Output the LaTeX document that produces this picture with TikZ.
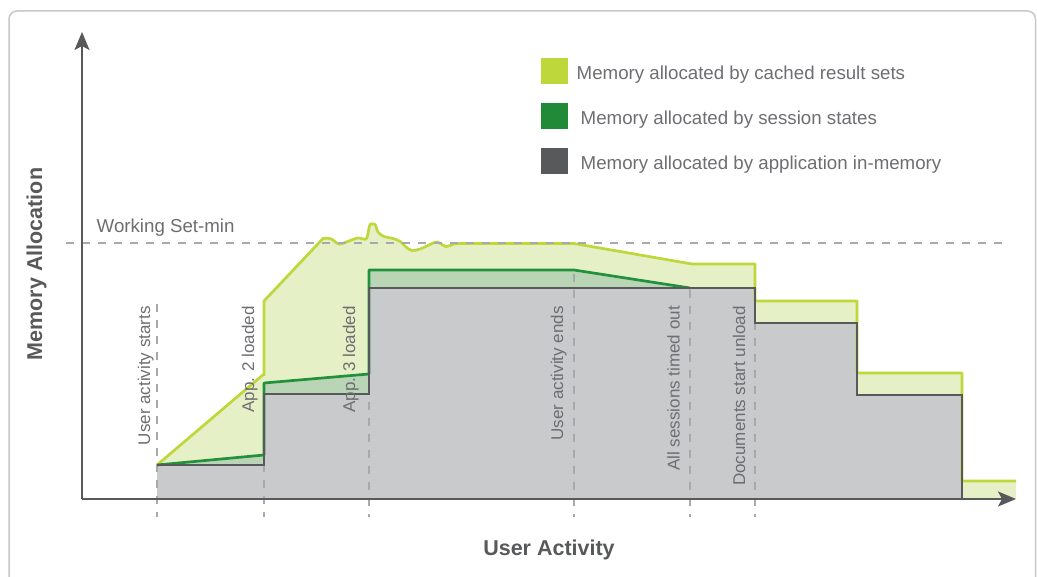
\documentclass[tikz,border=0pt]{standalone}
\usepackage{fontspec}
\setmainfont{Liberation Sans}
\usetikzlibrary{arrows.meta}
\definecolor{axisgray}{HTML}{58595B}
\definecolor{framegray}{HTML}{C7C8CA}
\definecolor{dashgray}{HTML}{A7A9AC}
\definecolor{txtgray}{HTML}{6D6E71}
\definecolor{limeline}{HTML}{BED73B}
\definecolor{limefill}{HTML}{E6F0C6}
\definecolor{greenline}{HTML}{22913C}
\definecolor{greenfill}{HTML}{B9D5B6}
\definecolor{grayfill}{HTML}{C9CACC}
\tikzset{
  axisline/.style={draw=axisgray, line width=2pt, -{Stealth[length=18pt,width=15pt,inset=4pt]}},
  framebox/.style={draw=framegray, line width=1.5pt, rounded corners=8pt},
  guide/.style={draw=dashgray, line width=1.5pt, dash pattern=on 8pt off 8pt},
  limeedge/.style={draw=limeline, line width=2.7pt, line join=round},
  greenedge/.style={draw=greenline, line width=2.7pt, line join=round},
  grayedge/.style={draw=axisgray, line width=2.9pt, line join=miter},
  eventlabel/.style={rotate=90, anchor=base east, inner sep=0pt, text=txtgray, font=\fontsize{17}{17}\selectfont},
  legendtext/.style={anchor=base west, inner sep=0pt, text=txtgray, font=\fontsize{18.7}{18.7}\selectfont},
  legendsq/.style={minimum width=27pt, minimum height=26pt, inner sep=0pt, anchor=north west},
  axistitle/.style={inner sep=0pt, anchor=base, text=axisgray, font=\fontsize{21.5}{21.5}\selectfont\bfseries}
}
\begin{document}
\begin{tikzpicture}[x=1pt,y=-1pt]
\path[use as bounding box] (0,0) rectangle (1037,577);
\begin{scope}
\clip (0,0) rectangle (1037,577);
\draw[framebox] (9,590) -- (9,11) -- (1035.5,11) -- (1035.5,590);
\end{scope}

% coordinates
\coordinate (O) at (82,499);
\coordinate (ytip) at (82,32);
\coordinate (xtip) at (1016,499);

% lime (cached result sets) fill
\fill[limefill] (157,465) -- (264,374) -- (264,301) -- (323,238.5)
  -- plot[smooth, tension=0.55] coordinates {(323,238.5) (331,238.8) (339,244) (349,241) (358,238) (366,239) (368.5,231) (370,224.5) (375,224.5) (378,232) (384,236.5) (393,238.5) (401,242) (406,247) (412,250.5) (420,249) (429,245) (437,242) (446,246.5) (454,244) (462,243.5)}
  -- (574,243.5) -- (692,264) -- (755,264) -- (755,301) -- (857,301) -- (857,373) -- (962,373) -- (962,481) -- (1016,481) -- (1016,499) -- (157,499) -- cycle;
% green (session states) fill
\fill[greenfill] (157,465) -- (264,455) -- (264,383) -- (369,374) -- (369,270) -- (574,270) -- (690,288) -- (690,499) -- (157,499) -- cycle;
% gray (application) fill
\fill[grayfill] (157,465) -- (264,465) -- (264,394) -- (369,394) -- (369,288) -- (755,288) -- (755,323) -- (857,323) -- (857,395) -- (962,395) -- (962,499) -- (157,499) -- cycle;

% vertical guides
\draw[guide] (157,304) -- (157,517);
\draw[guide] (264,304) -- (264,517);
\draw[guide] (369,290) -- (369,517);
\draw[guide] (574,274) -- (574,517);
\draw[guide] (690,290) -- (690,517);
\draw[guide] (755,290) -- (755,517);

% edges
\draw[limeedge] (157,465) -- (264,374) -- (264,301) -- (323,238.5)
  -- plot[smooth, tension=0.55] coordinates {(323,238.5) (331,238.8) (339,244) (349,241) (358,238) (366,239) (368.5,231) (370,224.5) (375,224.5) (378,232) (384,236.5) (393,238.5) (401,242) (406,247) (412,250.5) (420,249) (429,245) (437,242) (446,246.5) (454,244) (462,243.5)}
  -- (574,243.5) -- (692,264) -- (755,264) -- (755,301) -- (857,301) -- (857,373) -- (962,373) -- (962,481) -- (1016,481);
\draw[greenedge] (157,465) -- (264,455) -- (264,383) -- (369,374) -- (369,270) -- (574,270) -- (690,288);
\draw[grayedge] (157,465) -- (264,465) -- (264,394) -- (369,394) -- (369,288) -- (755,288) -- (755,323) -- (857,323) -- (857,395) -- (962,395) -- (962,499);

% working set guide
\draw[guide] (66,243) -- (1005,243);

% axes
\draw[axisline] (O) -- (ytip);
\draw[axisline] (O) -- (xtip);

% labels
\node[legendtext] (ws) at (96.5,232.3) {Working Set-min};
\node[eventlabel] (l1) at (150,306) {User activity starts};
\node[eventlabel] (l2) at (254,306) {App. 2 loaded};
\node[eventlabel] (l3) at (355,306) {App. 3 loaded};
\node[eventlabel] (l4) at (563,306) {User activity ends};
\node[eventlabel] (l5) at (679.5,306) {All sessions timed out};
\node[eventlabel] (l6) at (745,306) {Documents start unload};

% legend
\node[legendsq, fill=limeline] (sq1) at (541,58) {};
\node[legendsq, fill=greenline!95!black] (sq2) at (541,103) {};
\node[legendsq, fill=axisgray] (sq3) at (541,148) {};
\node[legendtext] (t1) at (576.5,79.3) {Memory allocated by cached result sets};
\node[legendtext] (t2) at (580.5,124.3) {Memory allocated by session states};
\node[legendtext] (t3) at (580.5,169.3) {Memory allocated by application in-memory};

% axis titles
\node[axistitle] (xt) at (549,555) {User Activity};
\node[axistitle, rotate=90] (yt) at (42,264) {Memory Allocation};
\end{tikzpicture}
\end{document}
